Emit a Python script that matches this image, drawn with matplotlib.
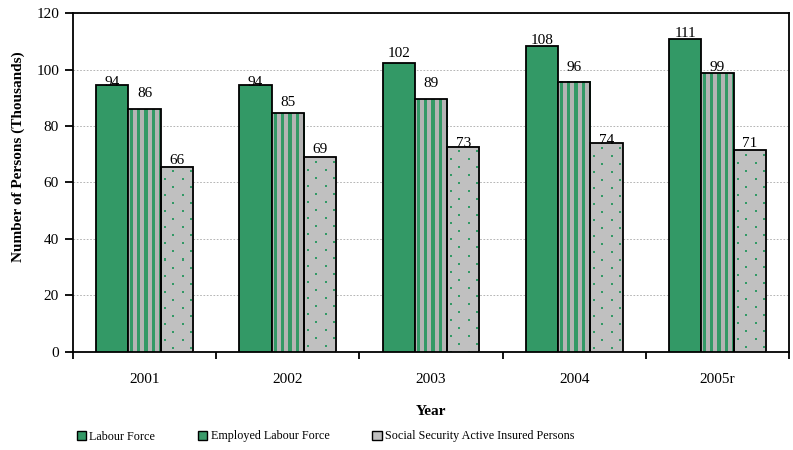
import numpy as np
import matplotlib
matplotlib.use("Agg")
import matplotlib.pyplot as plt
from matplotlib.colors import to_rgb
from matplotlib.patches import Patch

years = ["2001", "2002", "2003", "2004", "2005r"]
labour_force = [94.5, 94.5, 102.4, 108.4, 110.8]
employed = [86.0, 84.6, 89.4, 95.7, 98.6]
insured = [65.6, 68.9, 72.6, 73.9, 71.4]
series_names = ["Labour Force", "Employed Labour Force",
                "Social Security Active Insured Persons"]

# vertical gap (points) between each bar top and its value label
label_gap_lf = [-0.7, -0.7, 4.3, 1.4, 1.4]
label_gap_el = [8.6, 5.0, 9.0, 7.9, 1.8]
label_gap_ss = [2.2, 2.9, 0.0, -0.4, 2.2]

GREEN = "#339966"
GREY = "#c0c0c0"
STRIPE_GREY = "#b4b4b4"

plt.rcParams["font.family"] = ["Liberation Serif", "DejaVu Serif"]

fig = plt.figure(figsize=(7.93, 4.5), dpi=100)
ax = fig.add_axes([0.092, 0.218, 0.903, 0.753])
ax.set_xlim(-0.5, len(years) - 0.5)
ax.set_ylim(0, 120)

x = np.arange(len(years))
w = 0.225


def stripe_texture(hpx, wpx):
    col = np.arange(wpx)
    green = ((col + 5) % 7) < 3
    tex = np.empty((hpx, wpx, 3))
    tex[:] = to_rgb(STRIPE_GREY)
    tex[:, green] = to_rgb(GREEN)
    return tex


def dot_texture(hpx, wpx):
    r = np.arange(hpx)[:, None]
    c = np.arange(wpx)[None, :]
    k = (r + 4) // 8
    dots = (((r + 4) % 8) < 2) & (((c - (k % 2) * 8 - 3) % 17) < 2)
    tex = np.empty((hpx, wpx, 3))
    tex[:] = to_rgb(GREY)
    tex[dots] = to_rgb(GREEN)
    return tex


def textured_bars(xpos, vals, make_texture):
    bars = ax.bar(xpos, vals, w, color="none", edgecolor="black",
                  linewidth=1.3, zorder=4)
    to_px = ax.transData
    for rect in bars:
        x0, y0 = rect.get_x(), rect.get_y()
        x1, y1 = x0 + rect.get_width(), y0 + rect.get_height()
        (px0, py0), (px1, py1) = to_px.transform([(x0, y0), (x1, y1)])
        tex = make_texture(max(1, int(round(py1 - py0))),
                           max(1, int(round(px1 - px0))))
        ax.imshow(tex, extent=(x0, x1, y0, y1), aspect="auto",
                  interpolation="nearest", origin="upper", zorder=3)
    return bars


# Labour force: solid green
b1 = ax.bar(x - w, labour_force, w, color=GREEN, edgecolor="black",
            linewidth=1.3, zorder=3)
# Employed labour force: green vertical stripes on grey
b2 = textured_bars(x, employed, stripe_texture)
# Active insured persons: small green dots on grey
b3 = textured_bars(x + w, insured, dot_texture)

for bars, vals, gaps in ((b1, labour_force, label_gap_lf),
                         (b2, employed, label_gap_el),
                         (b3, insured, label_gap_ss)):
    for rect, v, g in zip(bars, vals, gaps):
        ax.annotate(f"{v:.0f}", (rect.get_x() + rect.get_width() / 2, v),
                    xytext=(0, g), textcoords="offset points",
                    ha="center", va="baseline", fontsize=11, zorder=5)

ax.set_xlim(-0.5, len(years) - 0.5)
ax.set_ylim(0, 120)
ax.set_yticks(np.arange(0, 121, 20))
ax.yaxis.grid(True, color="#a8a8a8", linestyle=(0, (2, 2)), linewidth=0.6)
ax.set_axisbelow(True)

# Tick marks between groups, labels at group centres
ax.set_xticks(np.arange(-0.5, len(years), 1.0))
ax.set_xticklabels([])
ax.set_xticks(x, minor=True)
ax.set_xticklabels(years, minor=True)
ax.tick_params(axis="x", which="major", direction="out", length=5, width=1.3)
ax.tick_params(axis="x", which="minor", length=0, pad=15, labelsize=11)
ax.tick_params(axis="y", direction="out", length=6, width=1.3,
               labelsize=11, pad=4)

for s in ax.spines.values():
    s.set_linewidth(1.3)

ax.set_ylabel("Number of Persons (Thousands)", fontsize=11,
              fontweight="bold", va="center")
ax.yaxis.set_label_coords(-0.076, 0.575)
ax.set_xlabel("Year", fontsize=11, fontweight="bold", va="center")
ax.xaxis.set_label_coords(0.5, -0.177)

handles = [
    Patch(facecolor=GREEN, edgecolor="black", linewidth=1.0),
    Patch(facecolor="#3a9a6a", edgecolor="black", linewidth=1.0),
    Patch(facecolor=GREY, edgecolor="black", linewidth=1.0),
]
fig.legend(handles, series_names, loc="center left",
           bbox_to_anchor=(0.083, 0.03), ncol=3, frameon=False,
           fontsize=8.7, handlelength=0.75, handleheight=0.75,
           handletextpad=0.3, columnspacing=3.55)

fig.savefig("out.png", dpi=100)
